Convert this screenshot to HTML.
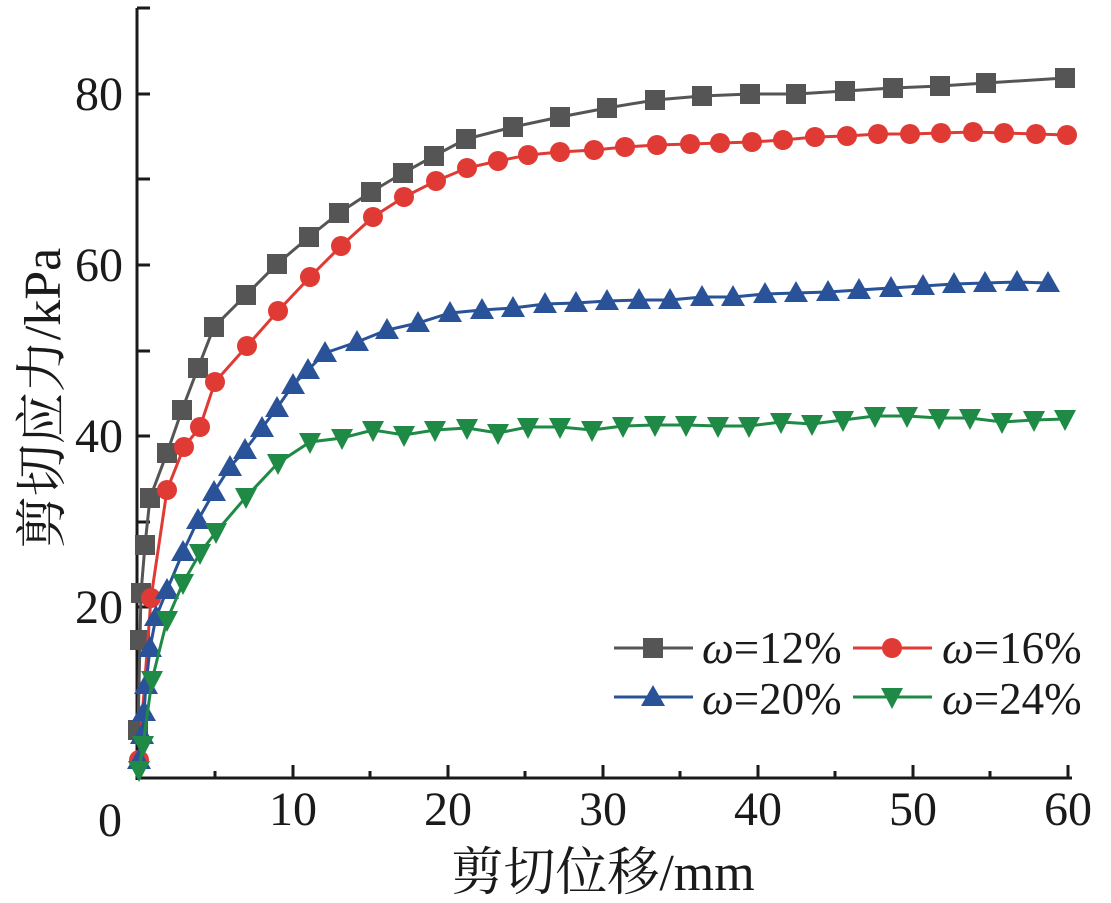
<!DOCTYPE html>
<html><head><meta charset="utf-8"><style>
html,body{margin:0;padding:0;background:#fff;}
svg{display:block;font-family:"Liberation Serif","Noto Serif CJK SC",serif;}
</style></head><body>
<svg id="s" width="1111" height="903" viewBox="0 0 1111 903" xmlns="http://www.w3.org/2000/svg">
<g stroke="#1a1a1a" stroke-width="3" fill="none">
<line x1="137" y1="8" x2="137" y2="780"/>
<line x1="135.5" y1="778" x2="1072" y2="778"/>
<line x1="137" y1="94" x2="150" y2="94"/><line x1="137" y1="179" x2="150" y2="179"/>
<line x1="137" y1="265" x2="150" y2="265"/><line x1="137" y1="351" x2="150" y2="351"/>
<line x1="137" y1="436" x2="150" y2="436"/><line x1="137" y1="522" x2="150" y2="522"/>
<line x1="137" y1="607" x2="150" y2="607"/><line x1="137" y1="692" x2="150" y2="692"/>
<line x1="137" y1="8" x2="150" y2="8"/>
<line x1="215" y1="778" x2="215" y2="771"/><line x1="293" y1="778" x2="293" y2="765"/>
<line x1="370" y1="778" x2="370" y2="771"/><line x1="448" y1="778" x2="448" y2="765"/>
<line x1="525" y1="778" x2="525" y2="771"/><line x1="603" y1="778" x2="603" y2="765"/>
<line x1="680" y1="778" x2="680" y2="771"/><line x1="758" y1="778" x2="758" y2="765"/>
<line x1="835" y1="778" x2="835" y2="771"/><line x1="913" y1="778" x2="913" y2="765"/>
<line x1="990" y1="778" x2="990" y2="771"/><line x1="1068" y1="778" x2="1068" y2="765"/>
</g>
<g font-size="48" fill="#1a1a1a" text-anchor="end">
<text x="123" y="110">80</text><text x="123" y="281">60</text>
<text x="123" y="452">40</text><text x="123" y="623">20</text>
</g>
<g font-size="48" fill="#1a1a1a" text-anchor="middle">
<text x="110" y="836">0</text><text x="293" y="825">10</text><text x="448" y="825">20</text>
<text x="603" y="825">30</text><text x="758" y="825">40</text><text x="913" y="825">50</text><text x="1068" y="825">60</text>
</g>
<text x="603" y="890" font-size="52" text-anchor="middle" fill="#1a1a1a">剪切位移/mm</text>
<text transform="translate(60,398) rotate(-90)" font-size="52" text-anchor="middle" fill="#1a1a1a">剪切应力/kPa</text>
<g id="series"></g>
<g font-size="45" fill="#1a1a1a">
<line x1="614" y1="648" x2="693" y2="648" stroke="#555" stroke-width="3"/><rect x="643" y="638" width="20" height="20" fill="#555"/>
<text x="702" y="663"><tspan font-style="italic">ω</tspan>=12%</text>
<line x1="853" y1="648" x2="932" y2="648" stroke="#e03a35" stroke-width="3"/><circle cx="892" cy="648" r="10" fill="#e03a35"/>
<text x="942" y="663"><tspan font-style="italic">ω</tspan>=16%</text>
<line x1="614" y1="697" x2="693" y2="697" stroke="#2a5298" stroke-width="3"/><polygon points="653,685 665,706 641,706" fill="#2a5298"/>
<text x="702" y="714"><tspan font-style="italic">ω</tspan>=20%</text>
<line x1="853" y1="697" x2="932" y2="697" stroke="#1e8a45" stroke-width="3"/><polygon points="881,688 903,688 892,709" fill="#1e8a45"/>
<text x="942" y="714"><tspan font-style="italic">ω</tspan>=24%</text>
</g>
</svg>
<script>
var S=[
{c:"#555",m:"s",p:[[138,730],[140,640],[141,593],[145,545],[150,498],[167,453],[182,410],[198,368],[214,327],[246,295],[277,264],[309,237],[339,213],[371,192],[403,173],[434,156],[466,139],[513,127],[560,117],[607,108],[655,100],[702,96],[750,94],[796,94],[845,91],[893,88],[940,86],[986,83],[1065,78]]},
{c:"#e03a35",m:"c",p:[[139,760],[151,598],[167,490],[184,447],[200,427],[215,382],[247,346],[278,311],[310,277],[341,246],[373,217],[404,197],[436,181],[467,168],[498,161],[528,155],[560,152],[594,150],[625,147],[657,145],[690,144],[720,143],[752,142],[783,140],[815,137],[847,136],[878,134],[910,134],[941,133],[973,132],[1004,133],[1036,134],[1067,135]]},
{c:"#2a5298",m:"t",p:[[139,760],[142,735],[144,712],[146,685],[150,648],[156,617],[167,590],[183,552],[198,520],[214,492],[230,467],[245,450],[262,428],[277,408],[293,385],[308,370],[325,353],[357,342],[387,330],[418,323],[450,313],[482,310],[513,308],[545,304],[576,303],[607,301],[639,300],[670,300],[702,297],[733,297],[765,294],[796,293],[828,292],[859,290],[891,288],[923,286],[954,284],[985,283],[1017,282],[1048,283]]},
{c:"#1e8a45",m:"v",p:[[139,770],[143,745],[152,680],[167,620],[183,583],[200,553],[216,532],[246,497],[278,463],[310,442],[342,438],[373,430],[404,435],[435,430],[467,428],[498,433],[528,427],[560,427],[592,430],[623,426],[655,425],[686,425],[718,426],[749,426],[781,422],[812,424],[843,420],[875,416],[907,416],[939,418],[970,418],[1002,422],[1034,420],[1065,419]]}];
var g=document.getElementById("series"),h="";
S.forEach(function(s){
h+='<polyline fill="none" stroke="'+s.c+'" stroke-width="3" points="'+s.p.map(function(q){return q.join(",")}).join(" ")+'"/>';
s.p.forEach(function(q){var x=q[0],y=q[1];
if(s.m=="s")h+='<rect x="'+(x-10)+'" y="'+(y-10)+'" width="20" height="20" fill="'+s.c+'"/>';
else if(s.m=="c")h+='<circle cx="'+x+'" cy="'+y+'" r="10" fill="'+s.c+'"/>';
else if(s.m=="t")h+='<polygon points="'+x+','+(y-12)+' '+(x+12)+','+(y+9)+' '+(x-12)+','+(y+9)+'" fill="'+s.c+'"/>';
else h+='<polygon points="'+(x-11)+','+(y-9)+' '+(x+11)+','+(y-9)+' '+x+','+(y+12)+'" fill="'+s.c+'"/>';});
});
g.innerHTML=h;
</script>
</body></html>
